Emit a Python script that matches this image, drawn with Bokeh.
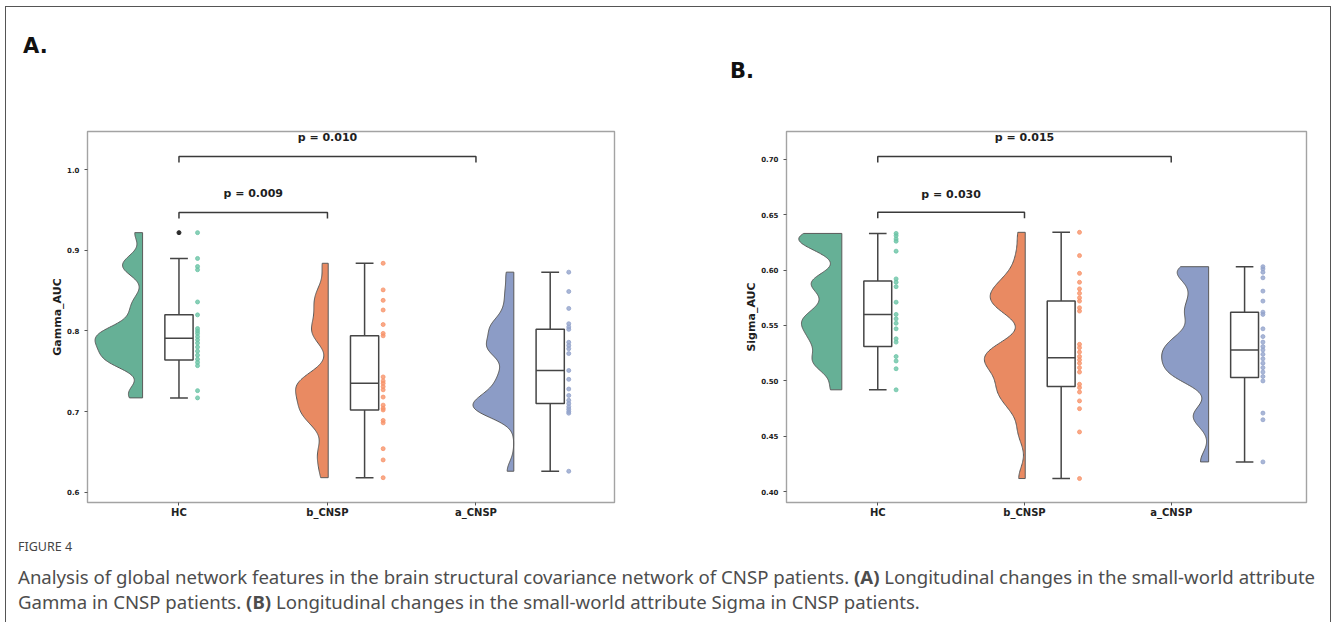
import numpy as np
from bokeh.plotting import figure
from bokeh.models import Div, FixedTicker, PrintfTickFormatter, Range1d
from bokeh.layouts import column, row
from bokeh.embed import file_html
from bokeh.resources import INLINE
from bokeh.core.properties import value

categories = ["HC", "b_CNSP", "a_CNSP"]

# ---- Panel A: Gamma_AUC ----
gamma_hc = [0.922, 0.890, 0.880, 0.876, 0.836, 0.820, 0.803, 0.800, 0.797, 0.793,
            0.789, 0.785, 0.780, 0.775, 0.770, 0.765, 0.761, 0.757, 0.726, 0.717]
gamma_b = [0.884, 0.851, 0.838, 0.826, 0.808, 0.797, 0.794, 0.743, 0.738, 0.735,
           0.731, 0.727, 0.718, 0.708, 0.704, 0.702, 0.689, 0.686, 0.654, 0.640, 0.618]
gamma_a = [0.873, 0.849, 0.828, 0.809, 0.805, 0.802, 0.786, 0.782, 0.778, 0.772,
           0.751, 0.740, 0.728, 0.720, 0.714, 0.710, 0.706, 0.703, 0.700, 0.698, 0.626]
gamma_q1 = [0.764, 0.702, 0.710]
gamma_med = [0.791, 0.735, 0.751]
gamma_q3 = [0.820, 0.794, 0.802]
gamma_lo = [0.717, 0.618, 0.626]
gamma_hi = [0.890, 0.884, 0.873]
gamma_outliers = [0.922]
gamma_outlier_group = [0]
gamma_p_text = ["p = 0.009", "p = 0.010"]
gamma_p_pairs = [(0, 1), (0, 2)]
gamma_bracket_y = [0.947, 1.0165]
gamma_p_y = [0.970, 1.040]
gamma_yticks = [0.6, 0.7, 0.8, 0.9, 1.0]

# ---- Panel B: Sigma_AUC ----
sigma_hc = [0.633, 0.631, 0.628, 0.626, 0.617, 0.592, 0.589, 0.585, 0.571, 0.560,
            0.556, 0.552, 0.547, 0.538, 0.535, 0.522, 0.518, 0.511, 0.492]
sigma_b = [0.634, 0.613, 0.597, 0.589, 0.583, 0.579, 0.575, 0.572, 0.566, 0.563,
           0.533, 0.530, 0.526, 0.522, 0.519, 0.516, 0.512, 0.508, 0.497, 0.494,
           0.490, 0.482, 0.475, 0.454, 0.412]
sigma_a = [0.603, 0.601, 0.598, 0.593, 0.581, 0.572, 0.562, 0.560, 0.547, 0.540,
           0.535, 0.531, 0.528, 0.524, 0.520, 0.516, 0.512, 0.508, 0.504, 0.500,
           0.471, 0.465, 0.427]
sigma_q1 = [0.531, 0.495, 0.503]
sigma_med = [0.560, 0.521, 0.528]
sigma_q3 = [0.590, 0.572, 0.562]
sigma_lo = [0.492, 0.412, 0.427]
sigma_hi = [0.633, 0.634, 0.603]
sigma_outliers = []
sigma_outlier_group = []
sigma_p_text = ["p = 0.030", "p = 0.015"]
sigma_p_pairs = [(0, 1), (0, 2)]
sigma_bracket_y = [0.652, 0.7023]
sigma_p_y = [0.668, 0.7195]
sigma_yticks = [0.40, 0.45, 0.50, 0.55, 0.60, 0.65, 0.70]

# ---- styling ----
VIOLIN_COLORS = ["#66b096", "#e98a62", "#8c9cc6"]
POINT_COLORS = ["#6cc4a6", "#f7936a", "#93a4cc"]
ELEM_POS = [0.0, 1.25, 2.5]
VIOLIN_EDGE = -0.245
POINT_OFF = 0.125
BOX_W = 0.19
CAP_W = 0.12
VIOLIN_MAXW = 0.32
FONT = "DejaVu Sans"


def kde(data, bw=0.2, n=200):
    d = np.asarray(data, dtype=float)
    h = bw * d.std(ddof=1)
    grid = np.linspace(d.min(), d.max(), n)
    dens = np.exp(-0.5 * ((grid[:, None] - d[None, :]) / h) ** 2).sum(1) / (len(d) * h * np.sqrt(2 * np.pi))
    return grid, dens


def make_panel(groups, q1, med, q3, lo, hi, outl, outl_g, ptext, ppairs, bry, pty,
               yticks, ylabel, xr, yr, fmt, width, height, mb):
    p = figure(width=width, height=height, x_range=Range1d(*xr), y_range=Range1d(*yr),
               output_backend="svg", toolbar_location=None, title=None,
               min_border_left=mb[0], min_border_right=mb[1],
               min_border_top=mb[2], min_border_bottom=mb[3])
    p.background_fill_color = "white"
    p.border_fill_color = "white"
    p.grid.visible = False
    p.outline_line_color = "#a3a3a3"
    p.outline_line_width = 1.4

    # violins (half, gaussian KDE of the points, cut at the data range)
    kdes = [kde(g) for g in groups]
    gmax = max(k[1].max() for k in kdes)
    for i, (grid, dens) in enumerate(kdes):
        edge = ELEM_POS[i] + VIOLIN_EDGE
        w = dens / gmax * VIOLIN_MAXW
        xs = np.concatenate([[edge], edge - w, [edge]])
        ys = np.concatenate([[grid[0]], grid, [grid[-1]]])
        p.patch(xs, ys, fill_color=VIOLIN_COLORS[i], line_color="#5a5a5a", line_width=1.0)

    # boxes
    bl = [x - BOX_W / 2 for x in ELEM_POS]
    br = [x + BOX_W / 2 for x in ELEM_POS]
    bc = "#454545"
    lw = 1.5
    p.segment(ELEM_POS, q3, ELEM_POS, hi, line_color=bc, line_width=lw)
    p.segment(ELEM_POS, q1, ELEM_POS, lo, line_color=bc, line_width=lw)
    p.segment([x - CAP_W / 2 for x in ELEM_POS], hi, [x + CAP_W / 2 for x in ELEM_POS], hi, line_color=bc, line_width=lw)
    p.segment([x - CAP_W / 2 for x in ELEM_POS], lo, [x + CAP_W / 2 for x in ELEM_POS], lo, line_color=bc, line_width=lw)
    p.quad(left=bl, right=br, bottom=q1, top=q3, fill_color="white", line_color=bc, line_width=lw)
    p.segment(bl, med, br, med, line_color=bc, line_width=lw)
    if outl:
        p.scatter([ELEM_POS[g] for g in outl_g], outl, size=4, color="#2b2b2b")

    # rain points
    for i, g in enumerate(groups):
        p.scatter([ELEM_POS[i] + POINT_OFF] * len(g), g, size=4, fill_color=POINT_COLORS[i],
                  line_color=POINT_COLORS[i], alpha=0.8)

    # significance brackets
    drop = (yr[1] - yr[0]) * 0.016
    for (a, b), y, ty, t in zip(ppairs, bry, pty, ptext):
        p.line([a, a, b, b], [y - drop, y, y, y - drop], line_color="#3a3a3a", line_width=1.5)
        p.text([(a + b) / 2], [ty], text=[t], text_align="center", text_baseline="middle",
               text_font=value(FONT), text_font_style="bold", text_font_size="11px", text_color="#1e1e1e")

    # axes
    p.xaxis.ticker = FixedTicker(ticks=[0, 1, 2])
    p.xaxis.major_label_overrides = {0: categories[0], 1: categories[1], 2: categories[2]}
    p.yaxis.ticker = FixedTicker(ticks=yticks)
    p.yaxis.formatter = PrintfTickFormatter(format=fmt)
    for ax in (p.xaxis, p.yaxis):
        ax.axis_line_color = None
        ax.minor_tick_line_color = None
        ax.major_tick_line_color = "#555555"
        ax.major_tick_out = 3
        ax.major_tick_in = 0
        ax.major_label_text_font = FONT
        ax.major_label_text_font_style = "bold"
        ax.major_label_text_color = "#222222"
    p.xaxis.major_label_text_font_size = "10px"
    p.xaxis.major_label_standoff = 1
    p.yaxis.major_label_text_font_size = "7px"
    p.yaxis.major_label_standoff = 5
    p.yaxis.axis_label = ylabel
    p.yaxis.axis_label_text_font = FONT
    p.yaxis.axis_label_text_font_style = "bold"
    p.yaxis.axis_label_text_font_size = "11px"
    p.yaxis.axis_label_text_color = "#1e1e1e"
    p.yaxis.axis_label_standoff = 0
    return p


pA = make_panel([gamma_hc, gamma_b, gamma_a], gamma_q1, gamma_med, gamma_q3, gamma_lo, gamma_hi,
                gamma_outliers, gamma_outlier_group, gamma_p_text, gamma_p_pairs, gamma_bracket_y,
                gamma_p_y, gamma_yticks, "Gamma_AUC", (-0.616, 2.933), (0.5872, 1.0475), "%.1f",
                694, 440, (81, 86, 41, 28))
pB = make_panel([sigma_hc, sigma_b, sigma_a], sigma_q1, sigma_med, sigma_q3, sigma_lo, sigma_hi,
                sigma_outliers, sigma_outlier_group, sigma_p_text, sigma_p_pairs, sigma_bracket_y,
                sigma_p_y, sigma_yticks, "Sigma_AUC", (-0.622, 2.922), (0.3904, 0.7249), "%.2f",
                630, 440, (86, 24, 41, 28))

header = Div(text=(
    '<div style="position:relative;width:1324px;height:83px;">'
    '<span style="position:absolute;left:17px;top:29px;font-family:\'DejaVu Sans\';font-weight:bold;'
    'font-size:21px;line-height:21px;color:#111;">A.</span>'
    '<span style="position:absolute;left:724px;top:54px;font-family:\'DejaVu Sans\';font-weight:bold;'
    'font-size:21px;line-height:21px;color:#111;">B.</span></div>'),
    width=1324, height=83, margin=0)

caption = Div(text=(
    '<div style="width:1324px;height:92px;font-family:\'Noto Sans\';color:#4a4a4a;">'
    '<div style="padding:8px 0 0 12px;font-size:12.5px;line-height:18px;color:#444;">FIGURE 4</div>'
    '<div style="padding:8px 0 0 12px;font-size:18.6px;line-height:25px;color:#4d4d4d;">'
    'Analysis of global network features in the brain structural covariance network of CNSP patients. '
    '<b>(A)</b> Longitudinal changes in the small-world attribute<br>'
    'Gamma in CNSP patients. <b>(B)</b> Longitudinal changes in the small-world attribute Sigma in CNSP patients.'
    '</div></div>'),
    width=1324, height=92, margin=0)

layout = column(header, row(pA, pB), caption,
                styles={"margin": "6px 0 0 5px", "border": "1px solid #555555", "border-bottom": "none"})

open("out.html", "w").write(file_html(layout, INLINE))
